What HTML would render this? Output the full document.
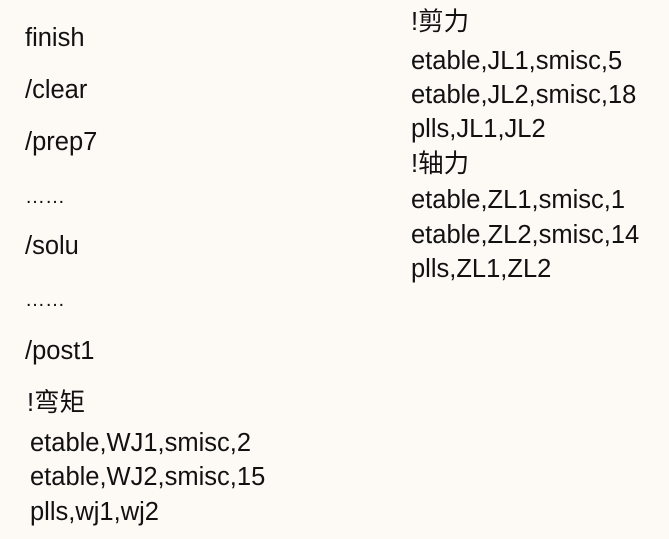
<!DOCTYPE html>
<html><head><meta charset="utf-8"><style>
body{margin:0;width:669px;height:539px;background:#fdf9f5;overflow:hidden;position:relative;font-family:"Liberation Sans","Noto Sans CJK SC",sans-serif;font-size:25.5px;color:#111}
div{position:absolute;white-space:nowrap;line-height:30px;height:30px}
</style></head><body>
<div style="left:25px;top:23px">finish</div>
<div style="left:25px;top:75px">/clear</div>
<div style="left:25px;top:127px">/prep7</div>
<div style="left:25px;top:182px;font-size:20px">……</div>
<div style="left:25px;top:231px">/solu</div>
<div style="left:25px;top:285px;font-size:20px">……</div>
<div style="left:25px;top:336px">/post1</div>
<div style="left:27px;top:388px">!弯矩</div>
<div style="left:30px;top:428px">etable,WJ1,smisc,2</div>
<div style="left:30px;top:462px">etable,WJ2,smisc,15</div>
<div style="left:30px;top:497px">plls,wj1,wj2</div>
<div style="left:411px;top:7px">!剪力</div>
<div style="left:411px;top:46px">etable,JL1,smisc,5</div>
<div style="left:411px;top:80px">etable,JL2,smisc,18</div>
<div style="left:411px;top:114px">plls,JL1,JL2</div>
<div style="left:411px;top:149px">!轴力</div>
<div style="left:411px;top:185px">etable,ZL1,smisc,1</div>
<div style="left:411px;top:220px">etable,ZL2,smisc,14</div>
<div style="left:411px;top:254px">plls,ZL1,ZL2</div>
</body></html>
